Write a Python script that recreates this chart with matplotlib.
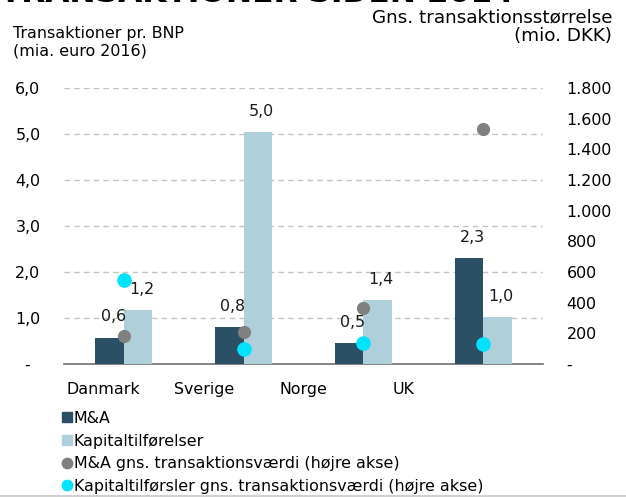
import numpy as np
import matplotlib
matplotlib.use('Agg')
import matplotlib.pyplot as plt
from matplotlib.lines import Line2D

# data
countries = ['Danmark', 'Sverige', 'Norge', 'UK']
ma_bnp = [0.57, 0.80, 0.46, 2.30]          # M&A, venstre akse
kapital_bnp = [1.17, 5.04, 1.39, 1.02]     # Kapitaltilførelser, venstre akse
ma_avg = [180, 210, 365, 1535]             # M&A gns. transaktionsværdi, højre akse
kapital_avg = [550, 100, 135, 130]         # Kapitaltilførsler gns. transaktionsværdi, højre akse

left_ticks = [0, 1, 2, 3, 4, 5, 6]
left_labels = ['-  ', '1,0', '2,0', '3,0', '4,0', '5,0', '6,0']
right_ticks = [0, 200, 400, 600, 800, 1000, 1200, 1400, 1600, 1800]
right_labels = ['-', '200', '400', '600', '800', '1.000', '1.200', '1.400', '1.600', '1.800']

c_dark = '#2B4F64'
c_light = '#AFCFDA'
c_gray = '#808080'
c_cyan = '#00E3FF'
fs = 11.4

plt.rcParams['font.family'] = 'DejaVu Sans'
fig = plt.figure(figsize=(6.26, 4.97), dpi=100)
ax = fig.add_axes([64/626, 1 - 364/497, 479/626, 276/497])
ax2 = ax.twinx()

x = np.arange(len(countries))
w = 0.238
b1 = ax.bar(x - w/2, ma_bnp, w, color=c_dark, zorder=3)
b2 = ax.bar(x + w/2, kapital_bnp, w, color=c_light, zorder=3)
for bars, vals in [(b1, ma_bnp), (b2, kapital_bnp)]:
    for r, v in zip(bars, vals):
        ax.annotate(f'{v:.1f}'.replace('.', ','), (r.get_x() + r.get_width()/2 + 0.03, v),
                    xytext=(0, 15), textcoords='offset points', ha='center', va='center',
                    fontsize=fs, color='#1a1a1a', zorder=4)

ax2.plot(x, ma_avg, 'o', color=c_gray, ms=9.5, mec='none', zorder=5)
ax2.plot(x, kapital_avg, 'o', color=c_cyan, ms=10.5, mec='none', zorder=5)

ax.set_xlim(-0.5, 3.5)
ax.set_ylim(0, 6)
ax2.set_ylim(0, 1800)
ax.set_yticks(left_ticks)
ax.set_yticklabels(left_labels)
ax2.set_yticks(right_ticks)
ax2.set_yticklabels(right_labels)
ax.tick_params(axis='y', length=0, pad=17, labelsize=fs)
ax2.tick_params(axis='y', length=0, pad=17, labelsize=fs)

# category labels sit left of the bar groups in the reference
label_shift = [-0.175, -0.334, -0.5, -0.668]
ax.set_xticks(x + np.array(label_shift))
ax.set_xticklabels(countries)
ax.tick_params(axis='x', length=0, pad=13, labelsize=fs)

ax.yaxis.grid(True, color='#C4C4C4', linestyle=(0, (4, 3)), linewidth=1)
ax.set_axisbelow(True)
for a in (ax, ax2):
    for s in a.spines.values():
        s.set_visible(False)
ax.spines['bottom'].set_visible(True)
ax.spines['bottom'].set_color('#707070')
ax.spines['bottom'].set_linewidth(1.2)

fig.text(13/626, 1 - 58/497, 'Transaktioner pr. BNP\n(mia. euro 2016)', fontsize=fs,
         ha='left', va='bottom', linespacing=1.15)
fig.text(612/626, 1 - 45/497, 'Gns. transaktionsstørrelse\n(mio. DKK)', fontsize=13.2,
         ha='right', va='bottom', multialignment='right', linespacing=1.05)
# heading cut off at the top edge of the reference
fig.text(0.0, 1 - 2.5/497, 'TRANSAKTIONER SIDEN 2014', fontsize=22.5, fontweight='bold',
         ha='left', va='baseline')

handles = [
    Line2D([], [], marker='s', ls='none', color=c_dark, ms=7.5),
    Line2D([], [], marker='s', ls='none', color=c_light, ms=7.5),
    Line2D([], [], marker='o', ls='none', color=c_gray, ms=7.5),
    Line2D([], [], marker='o', ls='none', color=c_cyan, ms=7.5),
]
names = ['M&A', 'Kapitaltilførelser', 'M&A gns. transaktionsværdi (højre akse)',
         'Kapitaltilførsler gns. transaktionsværdi (højre akse)']
fig.legend(handles, names, loc='upper left', bbox_to_anchor=(62/626, 1 - 411/497),
           frameon=False, fontsize=fs, handlelength=0.6, handletextpad=0.15,
           labelspacing=0.48, borderpad=0, borderaxespad=0)

fig.add_artist(Line2D([0, 1], [1/497, 1/497], color='#D0D0D0', lw=1.5))

fig.savefig('out.png', dpi=100)
